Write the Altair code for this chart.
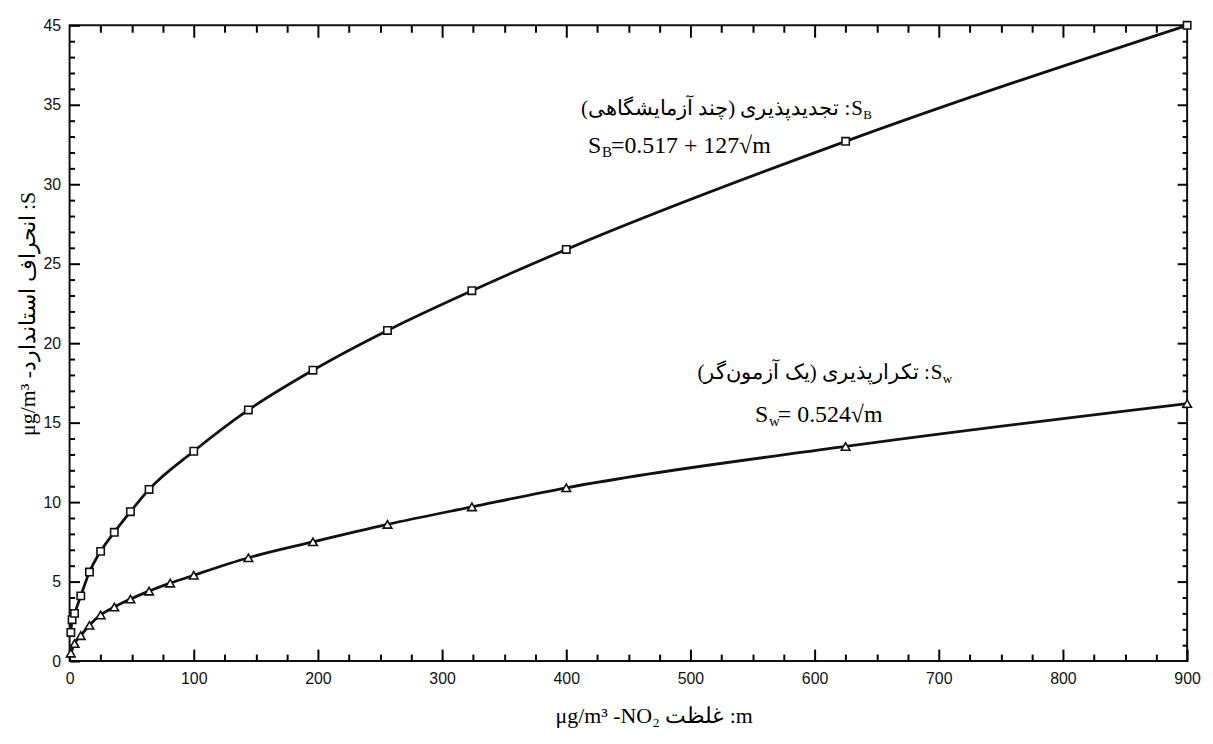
import json
import altair as alt
import pandas as pd

# ---- data ----
m_B = [1, 2, 4, 9, 16, 25, 36, 49, 64, 100, 144, 196, 256, 324, 400, 625, 900]
s_B = [1.8, 2.6, 3.0, 4.1, 5.6, 6.9, 8.1, 9.4, 10.8, 13.2, 15.8, 18.3, 20.8, 23.3, 25.9, 32.7, 40.0]
m_W = [1, 4, 9, 16, 25, 36, 49, 64, 81, 100, 144, 196, 256, 324, 400, 625, 900]
s_W = [0.5, 1.1, 1.6, 2.25, 2.9, 3.4, 3.9, 4.4, 4.9, 5.4, 6.5, 7.5, 8.6, 9.7, 10.9, 13.5, 16.2]

x_ticks = [0, 100, 200, 300, 400, 500, 600, 700, 800, 900]
y_ticks = [0, 5, 10, 15, 20, 25, 30, 35, 40]
y_tick_labels = ["0", "5", "10", "15", "20", "25", "30", "35", "45"]
x_minor = [v for v in range(25, 900, 25) if v % 100]
y_minor = [v for v in range(1, 40) if v % 5]

x_title = "μg/m³ -NO₂ غلظت :m"
y_title = "μg/m³ -انحراف استاندارد :S"
lab_B = "\u202bتجدیدپذیری (چند آزمایشگاهی)\u202c :"
lab_W = "\u202bتکرارپذیری (یک آزمون\u200cگر)\u202c :"
eq_B = "=0.517 + 127√m"
eq_W = "= 0.524√m"

W, H = 1125, 640
SERIF = "Liberation Serif"
SANS = "Liberation Sans"
INK = "#000000"
MAJ, MIN = 12, 7

xs = alt.Scale(domain=[0, 900], nice=False, zero=False)
ys = alt.Scale(domain=[0, 40], nice=False, zero=False)

label_expr = f"{json.dumps(y_tick_labels)}[indexof({json.dumps(y_ticks)}, datum.value)]"

dfB = pd.DataFrame({"m": m_B, "s": s_B})
dfW = pd.DataFrame({"m": m_W, "s": s_W})


def tick_axis(orient, vals, size, **kw):
    # inward ticks: axis pulled inside the frame by its own tick length
    return alt.Axis(orient=orient, values=vals, offset=-size, tickSize=size, ticks=True,
                    tickColor=INK, tickWidth=2, tickOpacity=1, domain=False, grid=False, **kw)


no_lab = dict(labels=False, title=None)

x_main = tick_axis("bottom", x_ticks, MAJ, labelFont=SANS, labelFontSize=16, labelColor="#111",
                   labelPadding=10, labelFlush=False, title=x_title, titleFont=SERIF,
                   titleFontSize=22, titleFontWeight="normal", titleColor="#000",
                   titleX=588, titleY=55 + MAJ, titleBaseline="middle", titleAlign="center")
y_main = tick_axis("left", y_ticks, MAJ - 2, labelFont=SANS, labelFontSize=16, labelColor="#111",
                   labelPadding=9, labelExpr=label_expr, labelFlush=False, title=y_title,
                   titleFont=SERIF, titleFontSize=22, titleFontWeight="normal", titleColor="#000",
                   titleX=-42 - (MAJ - 2), titleY=290, titleBaseline="middle",
                   titleAlign="center", titleAngle=270)

lineB = alt.Chart(dfB).mark_line(color="#111", strokeWidth=2.8, interpolate="monotone").encode(
    x=alt.X("m:Q", scale=xs, axis=x_main), y=alt.Y("s:Q", scale=ys, axis=y_main))
lineW = alt.Chart(dfW).mark_line(color="#111", strokeWidth=2.8, interpolate="monotone").encode(
    x=alt.X("m:Q", scale=xs, axis=tick_axis("bottom", x_minor, MIN, **no_lab)),
    y=alt.Y("s:Q", scale=ys, axis=tick_axis("left", y_minor, MIN - 2, **no_lab)))
ptsB = alt.Chart(dfB).mark_point(shape="square", size=55, filled=True, fill="white",
                                  stroke="#111", strokeWidth=1.6, opacity=1).encode(
    x=alt.X("m:Q", scale=xs, axis=tick_axis("top", x_ticks[1:-1], MAJ, **no_lab)),
    y=alt.Y("s:Q", scale=ys, axis=tick_axis("right", y_ticks[1:-1], MAJ - 2, **no_lab)))
ptsW = alt.Chart(dfW).mark_point(shape="triangle-up", size=75, filled=True, fill="white",
                                  stroke="#111", strokeWidth=1.6, opacity=1).encode(
    x=alt.X("m:Q", scale=xs, axis=tick_axis("top", x_minor, MIN, **no_lab)),
    y=alt.Y("s:Q", scale=ys, axis=tick_axis("right", y_minor, MIN - 2, **no_lab)))


def txt(s, px, py, size=21, align="left"):
    return alt.Chart(pd.DataFrame({"t": [s]})).mark_text(
        align=align, baseline="alphabetic", fontSize=size, font=SERIF, color="#000").encode(
        x=alt.value(px), y=alt.value(py), text="t:N")


texts = [
    txt(lab_B, 786, 90, align="right"), txt("S", 787, 90), txt("B", 799, 94, size=13),
    txt("S", 522, 129, size=24), txt("B", 536, 133, size=15), txt(eq_B, 545, 129, size=24),
    txt(lab_W, 866, 356, align="right"), txt("S", 867, 356), txt("w", 879, 360, size=13),
    txt("S", 690, 399, size=24), txt("w", 704, 403, size=15), txt(eq_W, 713, 399, size=24),
]

chart = alt.layer(lineB, lineW, ptsB, ptsW, *texts).resolve_axis(
    x="independent", y="independent").properties(
    width=W, height=H,
    autosize=alt.AutoSizeParams(type="none"),
    padding={"left": 62, "top": 15, "right": 18, "bottom": 70},
    background="white",
).configure_view(stroke="#111", strokeWidth=2)

chart.save("out.html", embed_options={"renderer": "svg", "actions": False})
